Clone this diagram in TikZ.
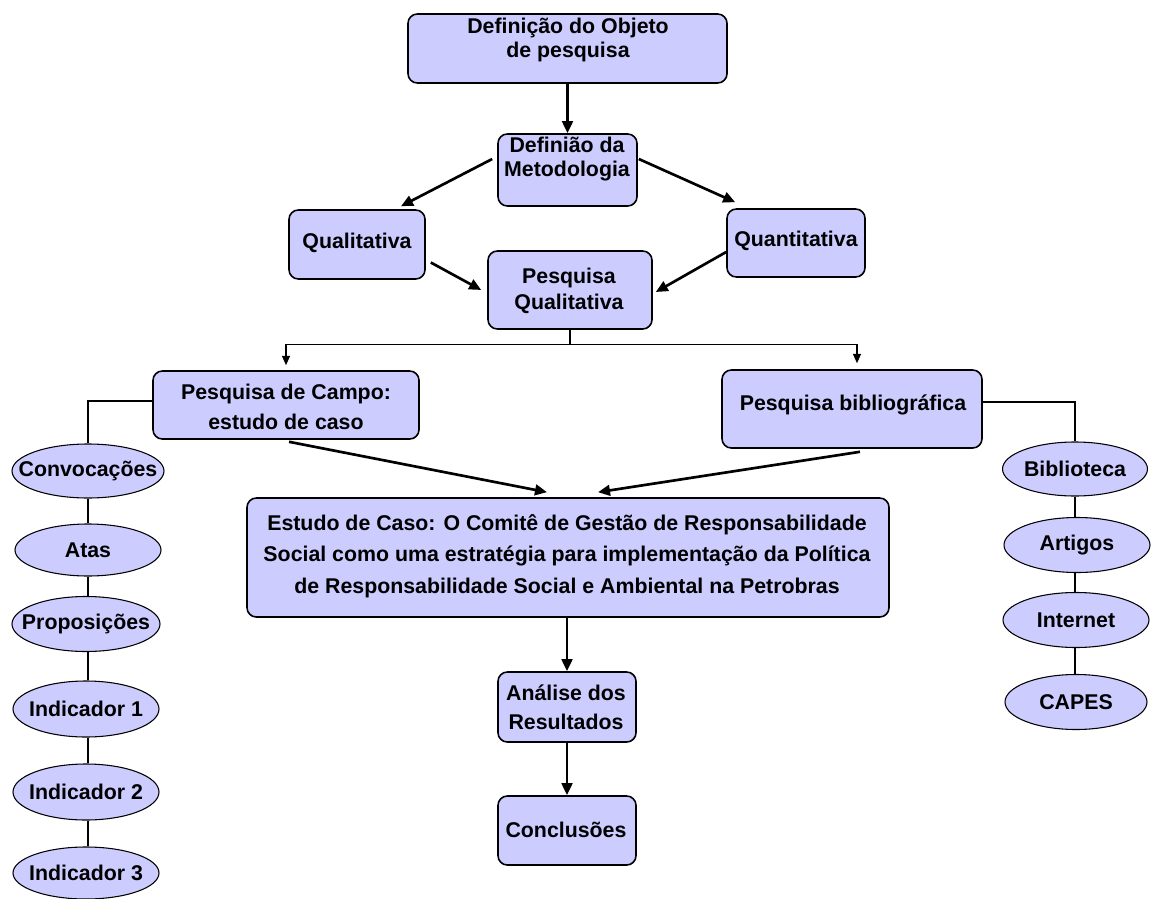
\documentclass[tikz,border=0pt]{standalone}
\usepackage{fontspec}
\setmainfont{Liberation Sans}
\usetikzlibrary{arrows.meta,fit,calc,shapes.geometric}
\definecolor{boxfill}{RGB}{204,204,255}
\begin{document}
\begin{tikzpicture}[x=0.75pt,y=-0.75pt,
  box/.style={draw=black, line width=1.2pt, fill=boxfill, rounded corners=7pt, inner sep=0pt},
  oval/.style={ellipse, draw=black, line width=0.8pt, fill=boxfill, inner sep=0pt},
  lbl/.style={inner sep=0pt, font=\fontsize{16}{19}\selectfont\bfseries},
  txt/.style={align=center, inner sep=0pt, font=\fontsize{16}{#1}\selectfont\bfseries},
  txt/.default=19,
  arr/.style={-{Triangle[length=9pt,width=8pt]}, line width=2pt},
  thinarr/.style={-{Triangle[length=7pt,width=6pt]}, line width=0.9pt},
  link/.style={line width=0.8pt}]
\useasboundingbox (0,0) rectangle (1154,899);

% boxes
\node[box, fit={(408,14) (727,83)}] (obj) {};
\node[txt=18pt] (objt) at (568,40) {Definição do Objeto\\de pesquisa};
\node[box, fit={(498,134) (637,206)}] (met) {};
\node[txt=18pt] (mett) at (567,159) {Definião da\\Metodologia};
\node[box, fit={(289,210) (425,279)}] (qual) {};
\node[txt] (qualt) at (357,243) {Qualitativa};
\node[box, fit={(727,209) (865,277)}] (quant) {};
\node[txt] (quantt) at (796,241) {Quantitativa};
\node[box, fit={(488,251) (652,329)}] (pq) {};
\node[txt=20pt] (pqt) at (569,291) {Pesquisa\\Qualitativa};
\node[box, fit={(153,371) (419,439)}] (campo) {};
\node[txt=22.5pt] (campot) at (286,407) {Pesquisa de Campo:\\estudo de caso};
\node[box, fit={(722,370) (982,448)}] (bib) {};
\node[txt] (bibt) at (853,405) {Pesquisa bibliográfica};
\node[box, fit={(247,498) (889,617)}] (est) {};
\node[txt=23.6pt] (estt) at (567,556) {Estudo de Caso: O Comitê de Gestão de Responsabilidade\\Social como uma estratégia para implementação da Política\\de Responsabilidade Social e Ambiental na Petrobras};
\node[box, fit={(498,672) (636,742)}] (ana) {};
\node[txt=21.75pt] (anat) at (566,707) {Análise dos\\Resultados};
\node[box, fit={(498,796) (636,865)}] (conc) {};
\node[txt] (conct) at (566,830) {Conclusões};

% ellipses left
\node[oval, minimum width=114pt, minimum height=40.5pt, label={[lbl]center:Convocações}] (conv) at (88,471) {};
\node[oval, minimum width=109.5pt, minimum height=39pt, label={[lbl]center:Atas}] (atas) at (88,550) {};
\node[oval, minimum width=111pt, minimum height=41.25pt, label={[lbl]center:Proposições}] (prop) at (86,624) {};
\node[oval, minimum width=109.5pt, minimum height=42pt, label={[lbl]center:Indicador 1}] (ind1) at (86,709) {};
\node[oval, minimum width=109.5pt, minimum height=42pt, label={[lbl]center:Indicador 2}] (ind2) at (86,792) {};
\node[oval, minimum width=109.5pt, minimum height=39pt, label={[lbl]center:Indicador 3}] (ind3) at (86,873) {};
% ellipses right
\node[oval, minimum width=108.75pt, minimum height=40.5pt, label={[lbl]center:Biblioteca}] (bibl) at (1075,469) {};
\node[oval, minimum width=109.5pt, minimum height=41.25pt, label={[lbl]center:Artigos}] (art) at (1077,545) {};
\node[oval, minimum width=109.5pt, minimum height=41.25pt, label={[lbl]center:Internet}] (int) at (1076,620) {};
\node[oval, minimum width=106.5pt, minimum height=41.25pt, label={[lbl]center:CAPES}] (capes) at (1076,702) {};

% thick arrows
\draw[arr] (obj.south) -- (met.north);
\draw[arr] ($(met.west)+(-5,-11)$) -- ($(qual.north)+(44,-3)$);
\draw[arr] ($(met.east)+(1,-11)$) -- ($(quant.north west)+(9,-6)$);
\draw[arr] ($(qual.east)+(5,18)$) -- ($(pq.west)+(-6,0)$);
\draw[arr] ($(quant.west)+(0,9)$) -- ($(pq.east)+(3,2)$);
\draw[arr] ($(campo.south)+(3,2)$) -- ($(est.north)+(-21,-5)$);
\draw[arr] ($(bib.south)+(8,3)$) -- ($(est.north)+(30,-5)$);
\draw[arr] (ana.north |- est.south) -- (ana.north);
\draw[arr] (ana.south) -- (conc.north);

% split from Pesquisa Qualitativa
\draw[link] (pq.south) -- ++(0,15) coordinate (sp);
\draw[thinarr] (sp) -| ($(campo.north)+(0,-5)$);
\draw[thinarr] (sp) -| ($(bib.north)+(5,-6)$);

% left tree
\draw[link] ($(campo.west)+(0,-4)$) -| (conv.north);
\draw[link] (conv.south) -- (atas.north);
\draw[link] (atas.south) -- (atas.south |- prop.north);
\draw[link] (atas.south |- prop.south) -- (atas.south |- ind1.north);
\draw[link] (atas.south |- ind1.south) -- (atas.south |- ind2.north);
\draw[link] (atas.south |- ind2.south) -- (atas.south |- ind3.north);
% right tree
\draw[link] ($(bib.east)+(0,-7)$) -| (bibl.north);
\draw[link] (bibl.south) -- (bibl.south |- art.north);
\draw[link] (bibl.south |- art.south) -- (bibl.south |- int.north);
\draw[link] (bibl.south |- int.south) -- (bibl.south |- capes.north);
\end{tikzpicture}
\end{document}
